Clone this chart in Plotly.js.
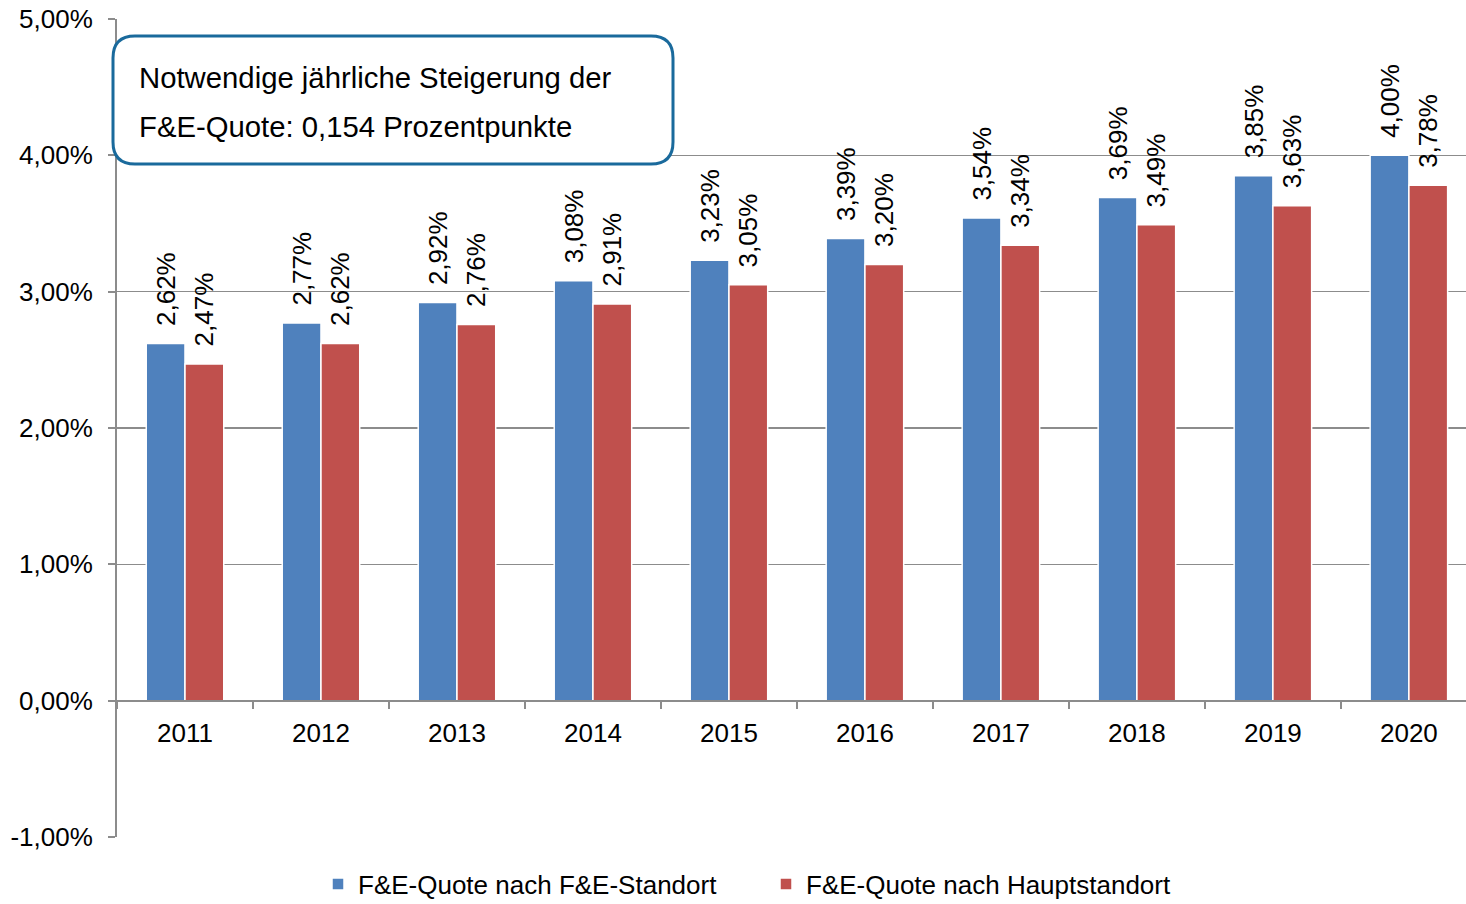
<!DOCTYPE html>
<html>
<head>
<meta charset="utf-8">
<script src="https://cdn.plot.ly/plotly-3.0.1.min.js"></script>
<style>html,body{margin:0;padding:0;background:#fff;}#chart{width:1466px;height:904px;}</style>
</head>
<body>
<div id="chart"></div>
<script>
var years = ["2011","2012","2013","2014","2015","2016","2017","2018","2019","2020"];
var quoteStandort = [2.62, 2.77, 2.92, 3.08, 3.23, 3.39, 3.54, 3.69, 3.85, 4.00];
var quoteHaupt = [2.47, 2.62, 2.76, 2.91, 3.05, 3.20, 3.34, 3.49, 3.63, 3.78];
var seriesNames = ["F&E-Quote nach F&E-Standort", "F&E-Quote nach Hauptstandort"];
var yTickVals = [-1, 0, 1, 2, 3, 4, 5];
var yTickText = ["-1,00%", "0,00%", "1,00%", "2,00%", "3,00%", "4,00%", "5,00%"];
var boxLines = ["Notwendige jährliche Steigerung der", "F&E-Quote: 0,154 Prozentpunkte"];

var W = 1466, H = 904, ML = 117, MR = 0, MT = 19, MB = 67;
var PW = W - ML - MR, PH = H - MT - MB;
function px(x){ return (x - ML) / PW; }
function py(y){ return (H - MB - y) / PH; }

var FONT = "Liberation Sans, Arial, sans-serif";

function barTrace(vals, name, color){
  return {
    type: "bar", x: years, y: vals, name: name,
    marker: {color: color, line: {color: "#ffffff", width: 1.5}},
    texttemplate: "\u00a0\u00a0%{y:.2f}%", textposition: "outside",
    textangle: -90, constraintext: "none", cliponaxis: false,
    textfont: {family: FONT, size: 26, color: "#000"},
    hoverinfo: "skip"
  };
}

var data = [
  barTrace(quoteStandort, seriesNames[0], "#4F81BD"),
  barTrace(quoteHaupt, seriesNames[1], "#C0504D")
];

function roundRect(x0, y0, x1, y1, r){
  var rx = r / PW, ry = r / PH;
  var X0 = px(x0), X1 = px(x1), Yt = py(y0), Yb = py(y1);
  return "M " + (X0+rx) + "," + Yt +
    " L " + (X1-rx) + "," + Yt +
    " Q " + X1 + "," + Yt + " " + X1 + "," + (Yt-ry) +
    " L " + X1 + "," + (Yb+ry) +
    " Q " + X1 + "," + Yb + " " + (X1-rx) + "," + Yb +
    " L " + (X0+rx) + "," + Yb +
    " Q " + X0 + "," + Yb + " " + X0 + "," + (Yb+ry) +
    " L " + X0 + "," + (Yt-ry) +
    " Q " + X0 + "," + Yt + " " + (X0+rx) + "," + Yt + " Z";
}

var layout = {
  width: W, height: H,
  margin: {l: ML, r: MR, t: MT, b: MB, pad: 0, autoexpand: false},
  paper_bgcolor: "#fff", plot_bgcolor: "#fff",
  font: {family: FONT, color: "#000"},
  separators: ",.",
  barmode: "group", bargap: 0.43, bargroupgap: 0,
  showlegend: true,
  legend: {orientation: "h", x: px(318), xanchor: "left", y: py(884), yanchor: "middle",
           entrywidth: 403, borderwidth: 0,
           font: {family: FONT, size: 26, color: "#000"}, itemclick: false},
  xaxis: {
    type: "category", range: [-0.5, 9.42], anchor: "free", position: py(701),
    showline: true, linecolor: "#8c8c8c", linewidth: 2,
    tickson: "boundaries", ticks: "outside", ticklen: 7, tickcolor: "#8c8c8c", tickwidth: 2,
    showgrid: false, zeroline: false, automargin: false,
    tickfont: {family: FONT, size: 26, color: "#000"}, ticklabelstandoff: 9
  },
  yaxis: {
    range: [-1, 5], tickvals: yTickVals, ticktext: yTickText,
    showline: true, linecolor: "#8c8c8c", linewidth: 2,
    ticks: "outside", ticklen: 7, tickcolor: "#8c8c8c", tickwidth: 2,
    showgrid: true, gridcolor: "#8c8c8c", gridwidth: 1.5, zeroline: false, automargin: false,
    tickfont: {family: FONT, size: 26, color: "#000"}, ticklabelstandoff: 10
  },
  shapes: [{
    type: "path", xref: "paper", yref: "paper",
    path: roundRect(113, 36, 673, 164, 22),
    line: {color: "#1a6a9c", width: 3}, fillcolor: "#ffffff", layer: "above"
  }],
  annotations: [
    {xref: "paper", yref: "paper", x: px(137), y: py(78), xanchor: "left", yanchor: "middle",
     text: boxLines[0], showarrow: false, font: {family: FONT, size: 29.3, color: "#000"}},
    {xref: "paper", yref: "paper", x: px(137), y: py(126), xanchor: "left", yanchor: "middle",
     text: boxLines[1], showarrow: false, font: {family: FONT, size: 29.3, color: "#000"}}
  ]
};

Plotly.newPlot("chart", data, layout, {displayModeBar: false, staticPlot: true});
</script>
</body>
</html>
